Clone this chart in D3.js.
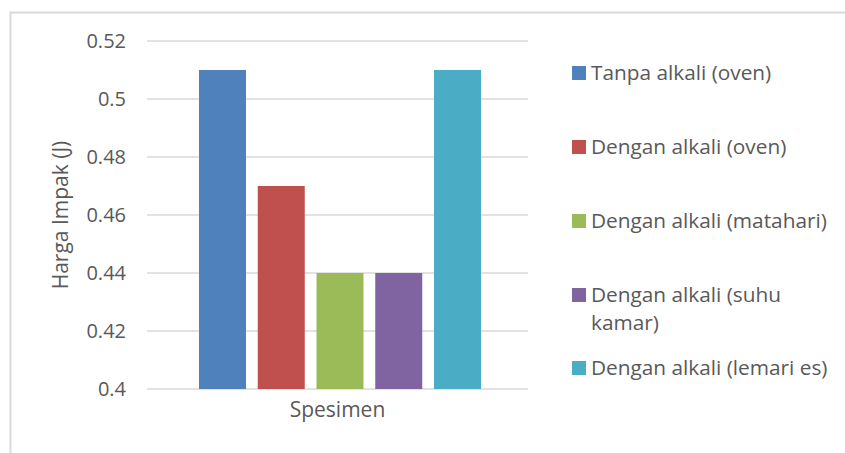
<!DOCTYPE html>
<html lang="id">
<head>
<meta charset="utf-8">
<title>Harga Impak</title>
<script src="https://d3js.org/d3.v7.min.js"></script>
<style>
  body { margin: 0; background: #fff; }
  text { font-family: "Open Sans", "Liberation Sans", sans-serif; fill: #595959; }
</style>
</head>
<body>
<div id="chart"></div>
<script>
// data
var category = "Spesimen";
var seriesNames = ["Tanpa alkali (oven)", "Dengan alkali (oven)", "Dengan alkali (matahari)",
                   "Dengan alkali (suhu kamar)", "Dengan alkali (lemari es)"];
var seriesValues = [0.51, 0.47, 0.44, 0.44, 0.51];
var seriesColors = ["#4F81BD", "#C0504D", "#9BBB59", "#8064A2", "#4BACC6"];
var yTicks = [0.4, 0.42, 0.44, 0.46, 0.48, 0.5, 0.52];

var w = 845, h = 453;
var svg = d3.select("#chart").append("svg").attr("width", w).attr("height", h);

// frame of the cropped chart area
svg.append("path")
   .attr("d", "M10.5," + h + "V12.5H" + w)
   .attr("fill", "none").attr("stroke", "#d9d9d9").attr("stroke-width", 2);

var plotLeft = 147, plotRight = 528, plotTop = 41, plotBottom = 389;

var y = d3.scaleLinear().domain([0.4, 0.52]).range([plotBottom, plotTop]);
var x0 = d3.scaleBand().domain([category]).range([plotLeft, plotRight]);
var x1 = d3.scaleBand().domain(seriesNames)
           .range([x0(category) + 52, x0(category) + x0.bandwidth() - 47])
           .paddingInner(0.2);

// grid
svg.append("g").selectAll("line").data(yTicks).enter().append("line")
   .attr("x1", plotLeft).attr("x2", plotRight)
   .attr("y1", function(d) { return y(d); }).attr("y2", function(d) { return y(d); })
   .attr("stroke", "#d9d9d9").attr("stroke-width", 1.5);

// y axis labels
var yAxis = d3.axisLeft(y).tickValues(yTicks).tickSize(0).tickPadding(21)
              .tickFormat(function(d) { return String(+d.toFixed(2)); });
var gy = svg.append("g").attr("transform", "translate(" + plotLeft + ",0)").call(yAxis);
gy.select(".domain").remove();
gy.selectAll("text").style("font-size", "20px").attr("fill", "#595959")
  .style("font-family", "'Open Sans', sans-serif");

// bars
svg.append("g").selectAll("rect").data(seriesValues).enter().append("rect")
   .attr("x", function(d, i) { return x1(seriesNames[i]); })
   .attr("width", x1.bandwidth())
   .attr("y", function(d) { return y(d); })
   .attr("height", function(d) { return plotBottom - y(d); })
   .attr("fill", function(d, i) { return seriesColors[i]; });

// x axis title
svg.append("text").attr("x", x0(category) + x0.bandwidth() / 2).attr("y", 417)
   .attr("text-anchor", "middle").style("font-size", "21px").text(category);

// y axis title
svg.append("text").attr("transform", "translate(68,215) rotate(-90)")
   .attr("text-anchor", "middle").style("font-size", "21px").text("Harga Impak (J)");

// legend
var legendRows = [["Tanpa alkali (oven)"], ["Dengan alkali (oven)"], ["Dengan alkali (matahari)"],
                  ["Dengan alkali (suhu", "kamar)"], ["Dengan alkali (lemari es)"]];
var legendY = [73, 147, 221, 295, 368];
var lg = svg.append("g").selectAll("g").data(legendRows).enter().append("g")
   .attr("transform", function(d, i) { return "translate(572," + legendY[i] + ")"; });
lg.append("rect").attr("x", 0).attr("y", -7).attr("width", 14).attr("height", 14)
  .attr("fill", function(d, i) { return seriesColors[i]; });
lg.append("text").attr("x", 19).attr("y", 7).style("font-size", "20.8px")
  .selectAll("tspan").data(function(d) { return d; }).enter().append("tspan")
  .attr("x", 19).attr("dy", function(d, i) { return i === 0 ? 0 : 28; })
  .text(function(d) { return d; });
</script>
</body>
</html>
